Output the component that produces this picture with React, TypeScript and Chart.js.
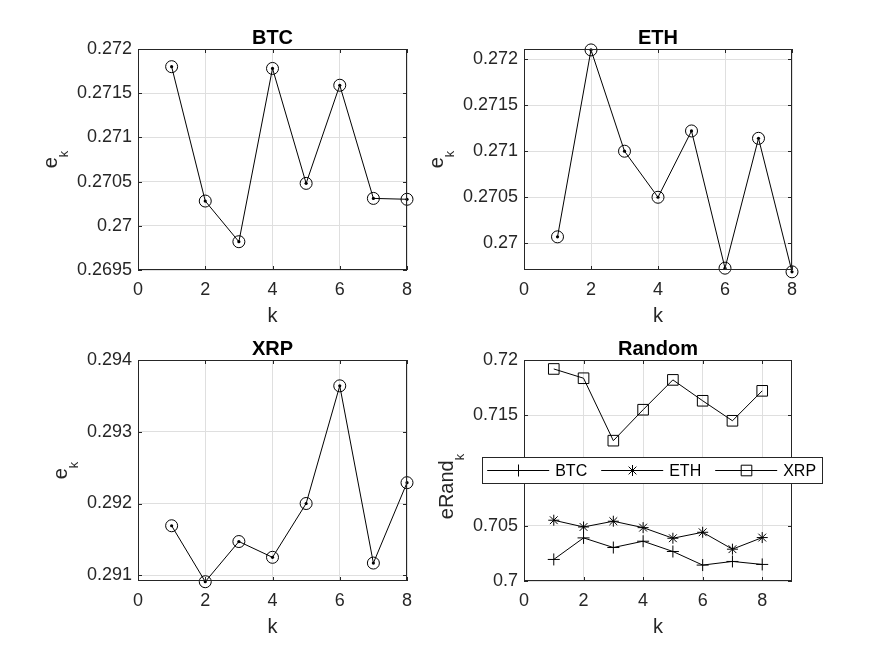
import React, { useEffect, useRef } from 'react';
import { Chart, registerables } from 'chart.js';

Chart.register(...registerables);

// ---------- data ----------
const K = [1, 2, 3, 4, 5, 6, 7, 8];
const X_TICKS = [0, 2, 4, 6, 8];

const BTC_E = [0.2718, 0.27028, 0.26982, 0.27178, 0.27048, 0.27159, 0.27031, 0.2703];
const ETH_E = [0.27007, 0.2721, 0.271, 0.2705, 0.27122, 0.26973, 0.27114, 0.26969];
const XRP_E = [0.29169, 0.29091, 0.29147, 0.29125, 0.292, 0.29364, 0.29117, 0.29229];

const RAND_BTC = [0.70195, 0.7039, 0.70303, 0.7036, 0.70267, 0.70144, 0.70177, 0.7015];
const RAND_ETH = [0.7055, 0.70489, 0.70541, 0.70483, 0.70387, 0.70441, 0.70288, 0.70393];
const RAND_XRP = [0.71919, 0.71835, 0.7127, 0.7155, 0.7182, 0.71631, 0.7145, 0.71721];

const BTC_Y_TICKS = [0.2695, 0.27, 0.2705, 0.271, 0.2715, 0.272];
const ETH_Y_TICKS = [0.27, 0.2705, 0.271, 0.2715, 0.272];
const XRP_Y_TICKS = [0.291, 0.292, 0.293, 0.294];
const RAND_Y_TICKS = [0.7, 0.705, 0.71, 0.715, 0.72];

const LEGEND_LABELS = ['BTC', 'ETH', 'XRP'];

// ---------- style ----------
const FONT = '"Liberation Sans", Arial, Helvetica, sans-serif';
const AXIS = '#262626';
const GRID = '#dfdfdf';

const fmt = (v: number) => String(Number(Number(v).toFixed(6)));

type Marker = 'cross' | 'star' | 'rect';

function drawMarker(ctx: CanvasRenderingContext2D, kind: Marker, x: number, y: number, r: number) {
  ctx.beginPath();
  if (kind === 'cross') {
    ctx.moveTo(x - r, y); ctx.lineTo(x + r, y);
    ctx.moveTo(x, y - r); ctx.lineTo(x, y + r);
  } else if (kind === 'star') {
    ctx.moveTo(x - r, y); ctx.lineTo(x + r, y);
    ctx.moveTo(x, y - r); ctx.lineTo(x, y + r);
    const d = r * Math.SQRT1_2;
    ctx.moveTo(x - d, y - d); ctx.lineTo(x + d, y + d);
    ctx.moveTo(x - d, y + d); ctx.lineTo(x + d, y - d);
  } else {
    const s = r * Math.SQRT1_2;
    ctx.rect(x - s, y - s, 2 * s, 2 * s);
  }
  ctx.stroke();
}

const matlabPlugin = {
  id: 'matlab',
  afterDraw(chart: any, _args: any, opts: any) {
    const { ctx, chartArea: a } = chart;
    const xs = chart.scales.x;
    const ys = chart.scales.y;
    ctx.save();
    // box
    ctx.strokeStyle = AXIS;
    ctx.lineWidth = 1;
    ctx.strokeRect(a.left + 0.5, a.top + 0.5, a.right - a.left - 1, a.bottom - a.top - 1);
    // inward ticks
    const tl = 4;
    ctx.beginPath();
    xs.ticks.forEach((t: any) => {
      const px = Math.round(xs.getPixelForValue(t.value)) + 0.5;
      ctx.moveTo(px, a.bottom); ctx.lineTo(px, a.bottom - tl);
      ctx.moveTo(px, a.top); ctx.lineTo(px, a.top + tl);
    });
    ys.ticks.forEach((t: any) => {
      const py = Math.round(ys.getPixelForValue(t.value)) + 0.5;
      ctx.moveTo(a.left, py); ctx.lineTo(a.left + tl, py);
      ctx.moveTo(a.right, py); ctx.lineTo(a.right - tl, py);
    });
    ctx.stroke();

    const cx = (a.left + a.right) / 2;
    const cy = (a.top + a.bottom) / 2;
    // title
    ctx.fillStyle = '#000';
    ctx.font = `bold 20px ${FONT}`;
    ctx.textAlign = 'center';
    ctx.textBaseline = 'alphabetic';
    ctx.fillText(opts.title, cx, a.top - 5);
    // x label
    ctx.fillStyle = AXIS;
    ctx.font = `20px ${FONT}`;
    ctx.fillText(opts.xLabel, cx, a.bottom + 51.5);
    // y label with subscript
    ctx.font = `18px ${FONT}`;
    let maxW = 0;
    ys.ticks.forEach((t: any) => { maxW = Math.max(maxW, ctx.measureText(fmt(t.value)).width); });
    const tickLeft = a.left - 6 - maxW;
    const eBase = tickLeft - 20;
    ctx.font = `20px ${FONT}`;
    const wMain = ctx.measureText(opts.yLabel).width;
    ctx.font = `13px ${FONT}`;
    const wSub = ctx.measureText(opts.ySub).width;
    const total = wMain + wSub;
    ctx.save();
    ctx.translate(eBase, cy + (opts.yOffset || 0));
    ctx.rotate(-Math.PI / 2);
    ctx.textAlign = 'left';
    ctx.font = `20px ${FONT}`;
    ctx.fillText(opts.yLabel, -total / 2, 0);
    ctx.font = `13px ${FONT}`;
    ctx.fillText(opts.ySub, -total / 2 + wMain, 11);
    ctx.restore();

    // legend
    if (opts.legend) {
      const bx = a.left - 42.3;
      const by = a.top + 97.3;
      const bw = 340.3;
      const bh = 26;
      ctx.fillStyle = '#fff';
      ctx.fillRect(bx, by, bw, bh);
      ctx.strokeStyle = AXIS;
      ctx.lineWidth = 1;
      ctx.strokeRect(Math.round(bx) + 0.5, Math.round(by) + 0.5, Math.round(bw), Math.round(bh));
      const midY = Math.round(by + bh / 2) + 0.5;
      chart.data.datasets.forEach((ds: any, i: number) => {
        const x0 = bx + i * 114;
        ctx.strokeStyle = '#000';
        ctx.lineWidth = 1;
        ctx.beginPath();
        ctx.moveTo(x0 + 5.5, midY); ctx.lineTo(x0 + 67.5, midY);
        ctx.stroke();
        drawMarker(ctx, ds.marker, Math.round(x0 + 36.5) + 0.5, midY, ds.pointRadius);
        ctx.fillStyle = '#000';
        ctx.font = `16px ${FONT}`;
        ctx.textAlign = 'left';
        ctx.fillText(ds.label, x0 + 73.5, by + bh / 2 + 6);
      });
    }
    ctx.restore();
  },
};

type PanelProps = {
  left: number; top: number; width: number; height: number;
  area: { L: number; T: number; R: number; B: number };
  datasets: any[];
  yMin: number; yMax: number; yTicks: number[];
  xMax: number;
  title: string; yLabel: string; ySub: string; yOffset?: number;
  legend?: boolean;
};

function Panel(p: PanelProps) {
  const ref = useRef<HTMLCanvasElement | null>(null);
  useEffect(() => {
    if (!ref.current) return;
    const chart = new Chart(ref.current, {
      type: 'line',
      data: { datasets: p.datasets },
      plugins: [matlabPlugin as any],
      options: {
        responsive: false,
        animation: false,
        events: [],
        devicePixelRatio: 1,
        layout: { padding: { left: 0, top: p.area.T, right: p.width - p.area.R, bottom: 0 } },
        plugins: {
          legend: { display: false },
          title: { display: false },
          tooltip: { enabled: false },
          matlab: {
            title: p.title, xLabel: 'k', yLabel: p.yLabel, ySub: p.ySub,
            yOffset: p.yOffset || 0, legend: !!p.legend,
          },
        } as any,
        scales: {
          x: {
            type: 'linear',
            min: 0,
            max: p.xMax,
            afterBuildTicks: (s: any) => { s.ticks = X_TICKS.map((v) => ({ value: v })); },
            afterFit: (s: any) => { s.height = p.height - p.area.B; },
            grid: { color: GRID, drawTicks: false, lineWidth: 1 },
            border: { display: false },
            ticks: {
              color: AXIS, font: { size: 18, family: FONT }, padding: 9,
              maxRotation: 0, autoSkip: false, callback: (v: any) => fmt(v),
            },
          },
          y: {
            type: 'linear',
            min: p.yMin,
            max: p.yMax,
            afterBuildTicks: (s: any) => { s.ticks = p.yTicks.map((v) => ({ value: v })); },
            afterFit: (s: any) => { s.width = p.area.L; },
            grid: { color: GRID, drawTicks: false, lineWidth: 1 },
            border: { display: false },
            ticks: {
              color: AXIS, font: { size: 18, family: FONT }, padding: 6,
              autoSkip: false, callback: (v: any) => fmt(v),
            },
          },
        },
      } as any,
    });
    return () => chart.destroy();
  }, []);
  return (
    <canvas
      ref={ref}
      width={p.width}
      height={p.height}
      style={{ position: 'absolute', left: p.left, top: p.top, width: p.width, height: p.height, display: 'block' }}
    />
  );
}

const pts = (vals: number[]) => K.map((k, i) => ({ x: k, y: vals[i] }));

function circleSets(vals: number[]) {
  return [
    {
      data: pts(vals), borderColor: '#000', borderWidth: 1, tension: 0,
      pointRadius: 1.6, pointBackgroundColor: '#000', pointBorderWidth: 0, clip: false,
    },
    {
      data: pts(vals), showLine: false, pointRadius: 6, pointBorderWidth: 1,
      pointBorderColor: '#000', pointBackgroundColor: 'rgba(0,0,0,0)', clip: false,
    },
  ];
}

function randSet(label: string, vals: number[], marker: Marker, style: string, r: number) {
  return {
    label, marker, data: pts(vals), borderColor: '#000', borderWidth: 1, tension: 0,
    pointStyle: style, pointRadius: r, pointBorderWidth: 1, pointBorderColor: '#000',
    pointBackgroundColor: 'rgba(0,0,0,0)', clip: false,
  };
}

export default function App() {
  const W1 = 437, H = 328;
  const L2 = 420, W2 = 875 - L2;
  return (
    <div style={{ position: 'absolute', left: 0, top: 0, width: 875, height: 656, background: '#fff' }}>
      <Panel left={0} top={0} width={W1} height={H} area={{ L: 138, T: 49, R: 407, B: 270 }}
        datasets={circleSets(BTC_E)} yMin={0.2695} yMax={0.272} yTicks={BTC_Y_TICKS} xMax={8}
        title="BTC" yLabel="e" ySub="k" />
      <Panel left={L2} top={0} width={W2} height={H} area={{ L: 524 - L2, T: 49, R: 792 - L2, B: 270 }}
        datasets={circleSets(ETH_E)} yMin={0.26971} yMax={0.27211} yTicks={ETH_Y_TICKS} xMax={8}
        title="ETH" yLabel="e" ySub="k" />
      <Panel left={0} top={H} width={W1} height={H} area={{ L: 138, T: 32, R: 407, B: 253 }}
        datasets={circleSets(XRP_E)} yMin={0.29092} yMax={0.294} yTicks={XRP_Y_TICKS} xMax={8}
        title="XRP" yLabel="e" ySub="k" />
      <Panel left={L2} top={H} width={W2} height={H} area={{ L: 524 - L2, T: 32, R: 792 - L2, B: 253 }}
        datasets={[
          randSet(LEGEND_LABELS[0], RAND_BTC, 'cross', 'cross', 6),
          randSet(LEGEND_LABELS[1], RAND_ETH, 'star', 'star', 5.5),
          randSet(LEGEND_LABELS[2], RAND_XRP, 'rect', 'rect', 7.5),
        ]}
        yMin={0.7} yMax={0.72} yTicks={RAND_Y_TICKS} xMax={9}
        title="Random" yLabel="eRand" ySub="k" yOffset={16} legend />
    </div>
  );
}
